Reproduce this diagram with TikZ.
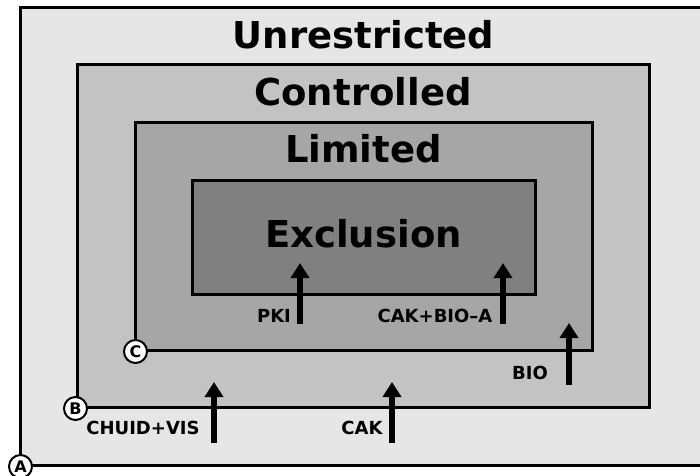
\documentclass[tikz,border=0pt]{standalone}
\usepackage{fontspec}
\setmainfont{DejaVu Sans}
\usepackage{xcolor}
\usetikzlibrary{arrows.meta}

\definecolor{zoneA}{HTML}{E6E6E6}
\definecolor{zoneB}{HTML}{C3C3C3}
\definecolor{zoneC}{HTML}{A6A6A6}
\definecolor{zoneD}{HTML}{808080}

\begin{document}
\begin{tikzpicture}
[x=1pt,y=-1pt,
 zone/.style={rectangle,draw,line width=3pt,inner sep=0pt},
 title/.style={anchor=base,font=\fontsize{37}{40}\selectfont\bfseries},
 tag/.style={anchor=base,font=\fontsize{18}{20}\selectfont\bfseries},
 corner/.style={circle,draw,fill=white,line width=2pt,inner sep=0pt,minimum size=23pt,
                font=\fontsize{16}{16}\selectfont\bfseries},
 pass/.style={line width=6pt,-{Triangle[width=18pt,length=15pt]}}]
\useasboundingbox (0,0) rectangle (700,475);
\begin{scope}
\clip (0,0) rectangle (700,475);
\node[zone,fill=zoneA,minimum width=687pt,minimum height=458pt] (unres) at (363.5,236) {};
\end{scope}
\node[zone,fill=zoneB,minimum width=572pt,minimum height=343pt] (contr) at (363,235.5) {};
\node[zone,fill=zoneC,minimum width=457pt,minimum height=228pt] (limit) at (363.5,236) {};
\node[zone,fill=zoneD,minimum width=343pt,minimum height=114pt] (excl)  at (363.5,237) {};
%
\node[title] (unrestext) at (363.5,48)  {Unrestricted};
\node[title] (contrtext) at (363,105)   {Controlled};
\node[title] (limittext) at (363.5,162) {Limited};
\node[title] (excltext)  at (363.5,247) {Exclusion};
%
\node[corner] (cornA) at ([xshift=2pt]unres.south west) {A};
\node[corner] (cornB) at (contr.south west) {B};
\node[corner] (cornC) at ([xshift=2pt]limit.south west) {C};
%
\node[tag] (chuid) at (143,434) {CHUID+VIS};
\node[tag] (cak)   at (362,434) {CAK};
\node[tag] (bio)   at (530,379) {BIO};
\node[tag] (pki)   at (274,322) {PKI};
\node[tag] (cakbio) at (435,322) {CAK+BIO\textendash A};
%
\coordinate (chuidst) at (214,443);
\coordinate (chuiden) at (214,382);
\coordinate (cakst)   at (392,443);
\coordinate (caken)   at (392,382);
\coordinate (biost)   at (569,385);
\coordinate (bioen)   at (569,323);
\coordinate (pkist)   at (300,324);
\coordinate (pkien)   at (300,263);
\coordinate (cbst)    at (503,324);
\coordinate (cben)    at (503,263);
\draw[pass] (chuidst) -- (chuiden);
\draw[pass] (cakst)   -- (caken);
\draw[pass] (biost)   -- (bioen);
\draw[pass] (pkist)   -- (pkien);
\draw[pass] (cbst)    -- (cben);
\end{tikzpicture}
\end{document}
